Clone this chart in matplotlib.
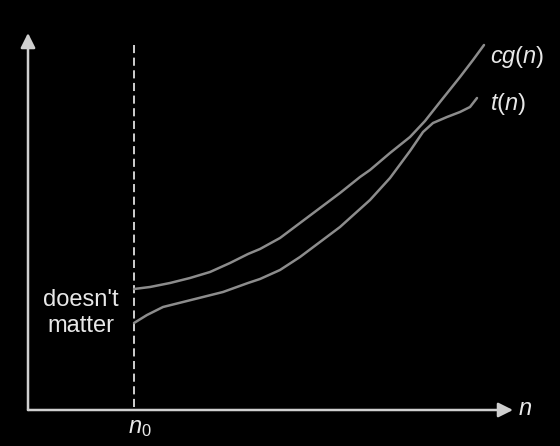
import matplotlib
matplotlib.use("Agg")
import matplotlib.pyplot as plt

plt.rcParams["font.family"] = ["Liberation Sans", "DejaVu Sans"]
plt.rcParams["mathtext.fontset"] = "custom"
plt.rcParams["mathtext.rm"] = "Liberation Sans"
plt.rcParams["mathtext.it"] = "Liberation Sans:italic"

# curves (pixel coords, y down)
cg_x = [134, 150, 170, 190, 210, 230, 248, 260, 280, 300, 320, 340, 360,
        370, 390, 410, 425, 440, 460, 473, 484]
cg_y = [289, 287, 283, 278, 272, 263, 254, 249, 238, 223, 208, 193, 177,
        170, 153, 137, 121, 102, 77, 60, 45]

t_x = [134, 147, 163, 183, 203, 223, 248, 260, 280, 300, 320, 340, 360,
       370, 390, 410, 423, 433, 447, 460, 470, 477]
t_y = [323, 315, 307, 302, 297, 292, 283, 279, 270, 257, 242, 227, 209,
       200, 178, 151, 132, 123, 117, 112, 107, 98]

origin = (28, 410)
x_tip = 513
y_tip = 33
n0 = 134
n0_top = 45

BG = "black"
AXIS_C = "#cfcfcf"
CURVE_C = "#8c8c8c"
TEXT_C = "#e8e8e8"
FS = 17

fig = plt.figure(figsize=(5.6, 4.46), dpi=100)
fig.patch.set_facecolor(BG)
ax = fig.add_axes([0, 0, 1, 1])
ax.set_facecolor(BG)
ax.set_xlim(0, 560)
ax.set_ylim(446, 0)
ax.axis("off")

arrow = dict(arrowstyle="-|>", color=AXIS_C, lw=1.8, mutation_scale=22,
             shrinkA=0, shrinkB=0)
ax.annotate("", xy=(x_tip, origin[1]), xytext=origin, arrowprops=arrow)
ax.annotate("", xy=(origin[0], y_tip), xytext=origin, arrowprops=arrow)

ax.plot([n0, n0], [n0_top, origin[1]], color="#e0e0e0", lw=1.3,
        ls=(0, (4.5, 2.5)))

ax.plot(cg_x, cg_y, color=CURVE_C, lw=1.8, solid_capstyle="round",
        solid_joinstyle="round")
ax.plot(t_x, t_y, color=CURVE_C, lw=1.8, solid_capstyle="round",
        solid_joinstyle="round")

ax.text(490, 57, "$cg(n)$", color=TEXT_C, fontsize=FS, va="center", ha="left")
ax.text(490, 104, "$t(n)$", color=TEXT_C, fontsize=FS, va="center", ha="left")
ax.text(81, 313, "doesn't\nmatter", color=TEXT_C, fontsize=FS,
        ha="center", va="center", linespacing=1.25)
ax.text(n0 + 6, 428, "$n_0$", color=TEXT_C, fontsize=FS, ha="center", va="center")
ax.text(518, 409, "$n$", color=TEXT_C, fontsize=FS, ha="left", va="center")

fig.savefig("out.png", dpi=100, facecolor=BG)
